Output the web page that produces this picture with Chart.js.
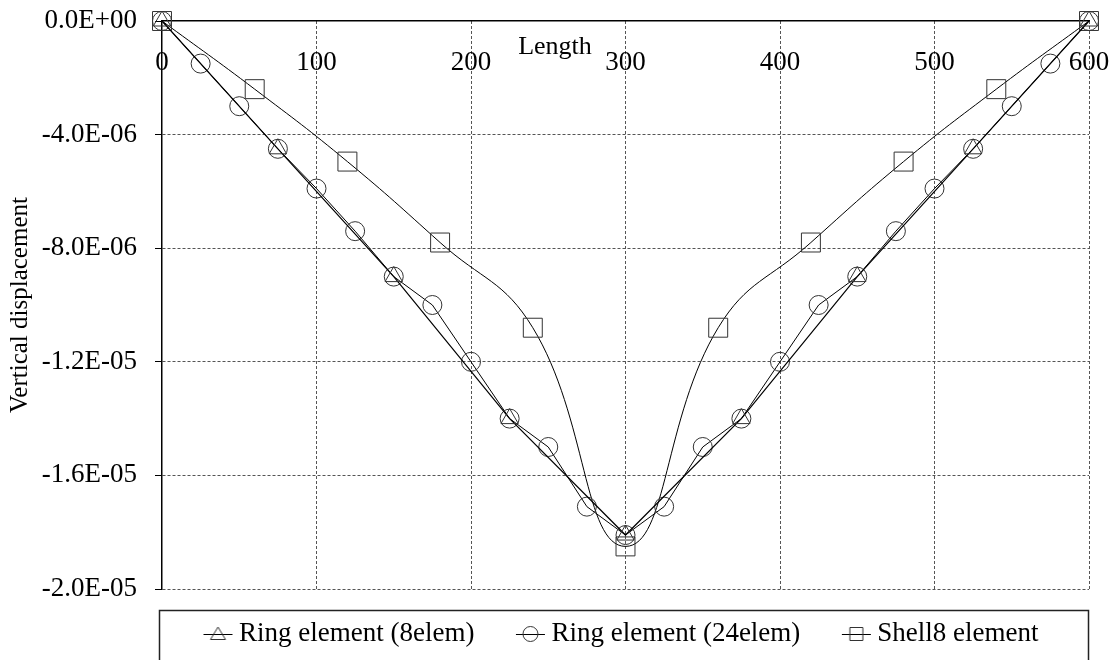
<!DOCTYPE html>
<html>
<head>
<meta charset="utf-8">
<script src="https://cdn.jsdelivr.net/npm/chart.js@4"></script>
<style>
  html, body { margin: 0; padding: 0; background: #fff; }
  #wrap { width: 1118px; height: 660px; }
</style>
</head>
<body>
<div id="wrap"><canvas id="chart" width="1118" height="660"></canvas></div>
<script>
// values (displacement in units of 1e-6)
const x8 = [0, 75, 150, 225, 300, 375, 450, 525, 600];
const y8 = [0, -4.5, -9.0, -14.0, -18.1, -14.0, -9.0, -4.5, 0];

const x24 = [0, 25, 50, 75, 100, 125, 150, 175, 200, 225, 250, 275, 300,
             325, 350, 375, 400, 425, 450, 475, 500, 525, 550, 575, 600];
const y24 = [0, -1.5, -3.0, -4.5, -5.9, -7.4, -9.0, -10.0, -12.0, -14.0, -15.0, -17.1, -18.1,
             -17.1, -15.0, -14.0, -12.0, -10.0, -9.0, -7.4, -5.9, -4.5, -3.0, -1.5, 0];

const xShell = [0, 60, 120, 180, 240, 300, 360, 420, 480, 540, 600];
const yShell = [0, -2.4, -4.95, -7.8, -10.8, -18.5, -10.8, -7.8, -4.95, -2.4, 0];

const seriesNames = ["Ring element (8elem)", "Ring element (24elem)", "Shell8 element"];
const xTicks = [0, 100, 200, 300, 400, 500, 600];
const yTicks = [0, -4e-6, -8e-6, -1.2e-5, -1.6e-5, -2e-5];

const FONT = "'Liberation Serif', 'Times New Roman', serif";
Chart.defaults.font.family = FONT;
Chart.defaults.color = "#000";

function toPoints(xs, ys) {
  return xs.map((x, i) => ({ x: x, y: ys[i] * 1e-6 }));
}

// 0.0E+00 style labels
function sci(v) {
  let s = Number(v).toExponential(1);
  s = s.replace(/e([+-])(\d)$/, "e$10$2");
  return s.toUpperCase();
}

// legend symbol: short line with the marker in its middle, drawn right of centre
function legendSymbol(kind) {
  const c = document.createElement("canvas");
  c.width = 52;
  c.height = 26;
  const g = c.getContext("2d");
  g.strokeStyle = "#000";
  g.lineWidth = 1;
  const cx = 34.5, cy = 13;
  g.beginPath();
  g.moveTo(20, cy + 0.5);
  g.lineTo(49, cy + 0.5);
  g.stroke();
  g.strokeStyle = "#333";
  g.beginPath();
  if (kind === "triangle") {
    g.moveTo(cx, cy - 7);
    g.lineTo(cx + 7.5, cy + 5.5);
    g.lineTo(cx - 7.5, cy + 5.5);
    g.closePath();
  } else if (kind === "circle") {
    g.arc(cx, cy, 7.5, 0, Math.PI * 2);
  } else {
    g.rect(cx - 6.5, cy - 6.5, 13, 13);
  }
  g.stroke();
  return c;
}
const legendSymbols = [legendSymbol("triangle"), legendSymbol("circle"), legendSymbol("rect")];

// keep tick label overhang from pushing the plot area around
function noOverhang(scale) {
  scale.paddingLeft = 0;
  scale.paddingRight = 0;
  scale.paddingTop = 0;
  scale.paddingBottom = 0;
}

const extras = {
  id: "extras",
  afterDraw(chart) {
    const ctx = chart.ctx;
    const area = chart.chartArea;
    ctx.save();
    // x axis title sits just under the top line
    ctx.font = "26px " + FONT;
    ctx.fillStyle = "#000";
    ctx.textAlign = "center";
    ctx.textBaseline = "middle";
    ctx.fillText("Length", 555, 47);
    // legend frame
    ctx.strokeStyle = "#222";
    ctx.lineWidth = 1.5;
    ctx.strokeRect(area.left - 2.5, 610.5, area.right - area.left + 2, 60);
    ctx.restore();
  }
};

const dashGrid = { display: true, color: "#000", width: 1.5, dash: [3, 2] };

new Chart(document.getElementById("chart"), {
  type: "line",
  data: {
    datasets: [
      {
        label: seriesNames[0],
        data: toPoints(x8, y8),
        borderColor: "#000",
        borderWidth: 1.2,
        pointStyle: "triangle",
        pointRadius: 10,
        pointBorderColor: "#333",
        pointBorderWidth: 1,
        pointBackgroundColor: "transparent",
        tension: 0,
        clip: false
      },
      {
        label: seriesNames[1],
        data: toPoints(x24, y24),
        borderColor: "#000",
        borderWidth: 1,
        pointStyle: "circle",
        pointRadius: 9.5,
        pointBorderColor: "#333",
        pointBorderWidth: 1,
        pointBackgroundColor: "transparent",
        tension: 0,
        clip: false
      },
      {
        label: seriesNames[2],
        data: toPoints(xShell, yShell),
        borderColor: "#000",
        borderWidth: 1,
        pointStyle: "rect",
        pointRadius: 13.4,
        pointBorderColor: "#333",
        pointBorderWidth: 1,
        pointBackgroundColor: "transparent",
        tension: 0.45,
        clip: false
      }
    ]
  },
  options: {
    responsive: false,
    animation: false,
    devicePixelRatio: 1,
    layout: { padding: { top: 21, right: 29, bottom: 2.5, left: 0 } },
    plugins: {
      title: { display: false },
      tooltip: { enabled: false },
      legend: {
        position: "bottom",
        fullSize: false,
        align: "start",
        labels: {
          usePointStyle: true,
          pointStyleWidth: 32,
          padding: 31.5,
          color: "#000",
          font: { size: 27, family: FONT },
          generateLabels(chart) {
            const items = Chart.defaults.plugins.legend.labels.generateLabels(chart);
            items.forEach(it => { it.pointStyle = legendSymbols[it.datasetIndex]; });
            return items;
          }
        }
      }
    },
    scales: {
      x: {
        type: "linear",
        position: { y: 0 },
        min: 0,
        max: 600,
        afterBuildTicks(scale) { scale.ticks = xTicks.map(v => ({ value: v })); },
        afterFit: noOverhang,
        border: dashGrid,
        grid: {
          drawTicks: false,
          color: ctx => (ctx.tick && ctx.tick.value === 0 ? "rgba(0,0,0,0)" : "#555"),
          lineWidth: 1
        },
        ticks: {
          autoSkip: false,
          maxRotation: 0,
          padding: 26,
          font: { size: 27 },
          color: "#000"
        }
      },
      y: {
        type: "linear",
        position: "left",
        min: -2e-5,
        max: 0,
        afterBuildTicks(scale) { scale.ticks = yTicks.map(v => ({ value: v })); },
        afterFit(scale) {
          scale.width = 162;
          noOverhang(scale);
        },
        border: dashGrid,
        grid: {
          color: ctx => (ctx.tick && ctx.tick.value === 0 ? "rgba(0,0,0,0)" : "#555"),
          lineWidth: 1,
          tickLength: 7,
          tickColor: "#000",
          tickWidth: 1,
          tickBorderDash: []
        },
        ticks: {
          padding: 18,
          font: { size: 27 },
          color: "#000",
          callback: v => sci(v)
        },
        title: {
          display: true,
          text: "Vertical displacement",
          font: { size: 25 },
          color: "#000",
          padding: { top: 5, bottom: 0 }
        }
      }
    }
  },
  plugins: [extras]
});
</script>
</body>
</html>
